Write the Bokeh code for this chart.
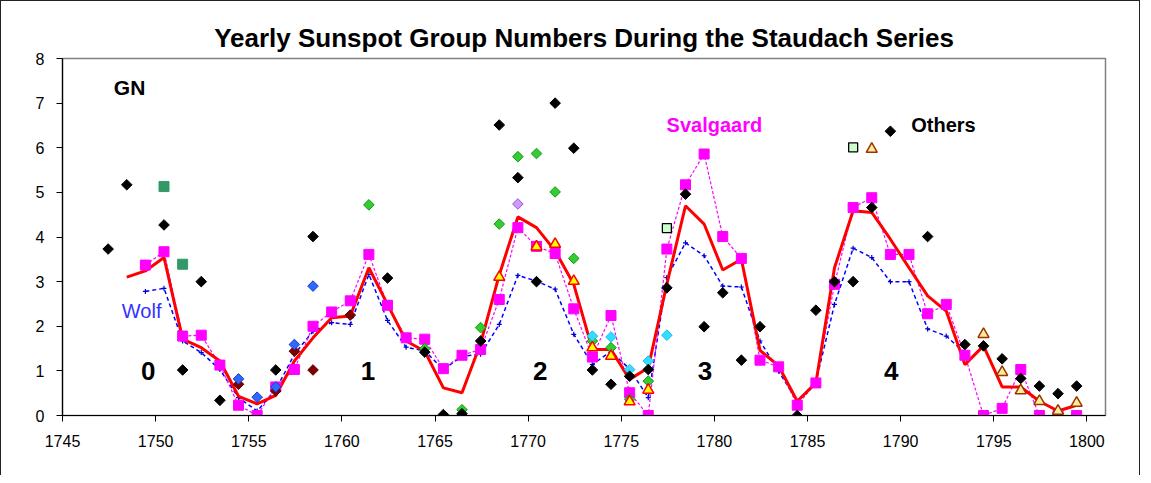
from bokeh.plotting import figure
from bokeh.models import Range1d, FixedTicker
from bokeh.core.properties import value
from bokeh.embed import file_html
from bokeh.resources import INLINE
import numpy as np

# ---------------- data ----------------
# Staudach composite group number (red line)
gn_years = list(range(1748, 1800))
gn_values = [3.10, 3.24, 3.54, 1.71, 1.52, 1.22, 0.43, 0.26, 0.45, 1.22,
             1.74, 2.19, 2.23, 3.31, 2.49, 1.67, 1.44, 0.62, 0.51, 1.62,
             3.15, 4.45, 4.21, 3.69, 2.94, 1.48, 1.48, 0.81, 1.07, 2.95,
             4.70, 4.29, 3.26, 3.50, 1.46, 1.11, 0.32, 0.73, 3.31, 4.59,
             4.55, 3.95, 3.31, 2.68, 2.34, 1.14, 1.56, 0.64, 0.64, 0.32,
             0.10, 0.23]

# Svalgaard (magenta squares, dashed)
sv_years = list(range(1749, 1800))
sv_values = [3.37, 3.67, 1.78, 1.80, 1.13, 0.23, 0.00, 0.64, 1.03, 2.00,
             2.32, 2.57, 3.61, 2.47, 1.74, 1.71, 1.05, 1.35, 1.48, 2.60,
             4.21, 3.79, 3.63, 2.39, 1.31, 2.24, 0.51, 0.00, 3.73, 5.17,
             5.86, 4.01, 3.52, 1.24, 1.09, 0.23, 0.73, 2.94, 4.66, 4.88,
             3.61, 3.61, 2.28, 2.49, 1.35, 0.00, 0.16, 1.03, 0.00, 0.00,
             0.00]

# Wolf (blue dashed)
wolf_years = list(range(1749, 1794))
wolf_values = [2.78, 2.85, 1.67, 1.41, 1.03, 0.40, 0.10, 0.58, 1.37, 1.89,
               2.08, 2.04, 3.16, 2.13, 1.53, 1.45, 1.03, 1.33, 1.37, 2.04,
               3.14, 3.01, 2.83, 1.82, 1.14, 1.44, 1.04, 0.40, 3.09, 3.87,
               3.58, 2.90, 2.88, 1.67, 0.99, 0.32, 0.75, 2.49, 3.75, 3.54,
               3.00, 3.00, 1.94, 1.78, 1.40]

# Others (black diamonds)
oth_years = [1747, 1748, 1750, 1751, 1752, 1753, 1756, 1758, 1762, 1764,
             1765, 1766, 1767, 1768, 1769, 1770, 1771, 1772, 1773, 1774,
             1775, 1776, 1777, 1778, 1779, 1780, 1781, 1782, 1784, 1785,
             1786, 1787, 1788, 1789, 1791, 1793, 1794, 1795, 1796, 1797,
             1798, 1799]
oth_values = [3.73, 5.17, 4.27, 1.02, 3.00, 0.34, 1.02, 4.01, 3.08, 1.42,
              0.02, 0.04, 1.67, 6.51, 5.33, 3.00, 7.00, 5.99, 1.02, 0.70,
              0.88, 1.03, 2.86, 4.96, 1.99, 2.75, 1.24, 1.99, 0.00, 2.36,
              3.00, 3.00, 4.66, 6.37, 4.01, 1.59, 1.56, 1.27, 0.83, 0.66,
              0.49, 0.66]

# green diamonds
grn_years = [1761, 1764, 1766, 1767, 1768, 1769, 1770, 1771, 1772, 1773, 1774, 1775, 1776]
grn_values = [4.72, 1.50, 0.13, 1.97, 4.29, 5.80, 5.87, 5.01, 3.52, 1.67, 1.52, 0.36, 0.77]

# yellow triangles (red edge)
ytr_years = [1768, 1770, 1771, 1772, 1773, 1774, 1775, 1776]
ytr_values = [3.10, 3.78, 3.84, 3.01, 1.52, 1.33, 0.31, 0.57]

# pale triangles (dark red edge)
ptr_years = [1788, 1794, 1795, 1796, 1797, 1798, 1799]
ptr_values = [5.97, 1.82, 0.97, 0.56, 0.32, 0.10, 0.28]

# cyan diamonds
cyn_years = [1773, 1774, 1775, 1776, 1777]
cyn_values = [1.78, 1.76, 1.03, 1.22, 1.80]

# blue diamonds
bld_years = [1754, 1755, 1756, 1757, 1758]
bld_values = [0.82, 0.41, 0.64, 1.59, 2.90]

# maroon diamonds
mrn_years = [1754, 1756, 1757, 1758, 1760]
mrn_values = [0.70, 0.55, 1.44, 1.02, 2.25]

# purple diamond
prp_years = [1769]
prp_values = [4.74]

# sea-green squares
sgr_years = [1750, 1751]
sgr_values = [5.13, 3.39]

# pale green squares (black edge)
pgr_years = [1777, 1787]
pgr_values = [4.20, 6.01]

# cycle numbers
cyc_labels = ["0", "1", "2", "3", "4"]
cyc_x = [1749.6, 1761.4, 1770.65, 1779.5, 1789.5]
cyc_y = [1.0, 1.0, 1.0, 1.0, 1.0]

x_ticks = list(range(1745, 1801, 5))
y_ticks = list(range(0, 9))

MID = 0.45  # points plotted near mid-year


def xs(years):
    return [y + MID for y in years]


FONT = "Liberation Sans"

p = figure(width=1140, height=475, output_backend="svg", toolbar_location=None,
           x_range=Range1d(1745, 1801), y_range=Range1d(0, 8),
           min_border_left=61, min_border_right=36, min_border_top=57, min_border_bottom=61)

p.title.text = "Yearly Sunspot Group Numbers During the Staudach Series"
p.title.align = "center"
p.title.text_font = FONT
p.title.text_font_size = "26px"
p.title.text_font_style = "bold"
p.title.text_color = "#000000"
p.title.standoff = 11

p.grid.visible = False
p.outline_line_color = "#808080"
p.outline_line_width = 1.5
p.background_fill_color = "white"
p.border_fill_color = "white"
p.styles = {"border-left": "1px solid #222", "border-top": "1px solid #222",
            "border-right": "1px solid #222"}

for ax in (p.xaxis[0], p.yaxis[0]):
    ax.axis_line_color = "#000000"
    ax.axis_line_width = 1.2
    ax.major_tick_line_color = "#000000"
    ax.major_tick_in = 0
    ax.major_tick_out = 6
    ax.minor_tick_line_color = None
    ax.major_label_text_font = FONT
    ax.major_label_text_font_size = "16px"
    ax.major_label_text_color = "#000000"

p.xaxis[0].ticker = FixedTicker(ticks=x_ticks)
p.yaxis[0].ticker = FixedTicker(ticks=y_ticks)
p.xaxis[0].major_label_standoff = 13
p.yaxis[0].major_label_standoff = 12

# lines
p.line(xs(wolf_years), wolf_values, line_color="#0000FF", line_width=1.5, line_dash="4 3")
p.scatter(xs(wolf_years), wolf_values, marker="cross", size=5, line_color="#0000CC", line_width=1.2)
p.line(xs(sv_years), sv_values, line_color="#FF00FF", line_width=1.2, line_dash="3 2")
p.line(xs(gn_years), gn_values, line_color="#FF0000", line_width=3)
p.scatter(xs(sv_years), sv_values, marker="square", size=10, fill_color="#FF00FF", line_color="#FF00FF")

DIA = dict(marker="square", angle=np.pi / 4, size=7.5)
p.scatter(xs(mrn_years), mrn_values, fill_color="#800000", line_color="#600000", **DIA)
p.scatter(xs(bld_years), bld_values, fill_color="#3366FF", line_color="#1040C0", **DIA)
p.scatter(xs(grn_years), grn_values, fill_color="#33CC33", line_color="#119911", **DIA)
p.scatter(xs(cyn_years), cyn_values, fill_color="#33DDFF", line_color="#22BBEE", **DIA)
p.scatter(xs(prp_years), prp_values, fill_color="#CC99FF", line_color="#9955CC", **DIA)
p.scatter(xs(oth_years), oth_values, fill_color="#000000", line_color="#000000", **DIA)
p.scatter(xs(ytr_years), ytr_values, marker="triangle", size=11, fill_color="#FFFF00", line_color="#FF0000", line_width=1.5)
p.scatter(xs(ptr_years), ptr_values, marker="triangle", size=11, fill_color="#FFEB99", line_color="#993300", line_width=1.5)
p.scatter(xs(sgr_years), sgr_values, marker="square", size=10, fill_color="#339966", line_color="#339966")
p.scatter(xs(pgr_years), pgr_values, marker="square", size=9, fill_color="#CCFFCC", line_color="#000000", line_width=1.3)

# annotations
p.text(x=cyc_x, y=cyc_y, text=cyc_labels, text_font=value(FONT), text_font_style="bold",
       text_font_size="26px", text_align="center", text_baseline="middle", text_color="#000000")
p.text(x=[1748.6], y=[7.35], text=["GN"], text_font=value(FONT), text_font_style="bold",
       text_font_size="21px", text_align="center", text_baseline="middle", text_color="#000000")
p.text(x=[1749.25], y=[2.34], text=["Wolf"], text_font=value(FONT),
       text_font_size="20px", text_align="center", text_baseline="middle", text_color="#3333FF")
p.text(x=[1780.0], y=[6.52], text=["Svalgaard"], text_font=value(FONT), text_font_style="bold",
       text_font_size="20px", text_align="center", text_baseline="middle", text_color="#FF00FF")
p.text(x=[1792.3], y=[6.52], text=["Others"], text_font=value(FONT), text_font_style="bold",
       text_font_size="20px", text_align="center", text_baseline="middle", text_color="#000000")

open("out.html", "w").write(file_html(p, INLINE))
